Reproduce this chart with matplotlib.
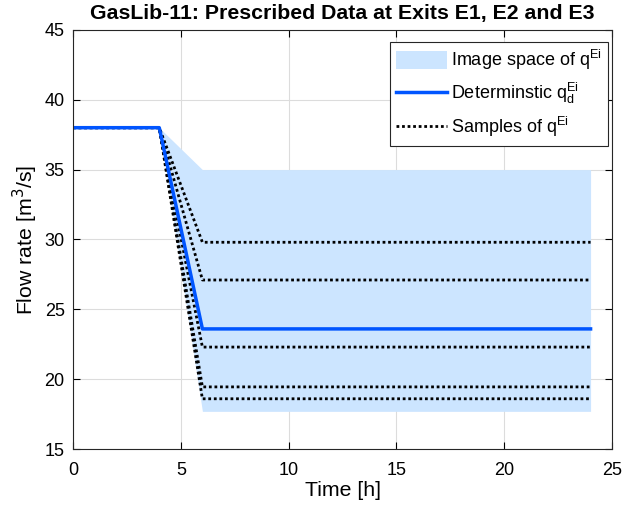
import matplotlib
matplotlib.use('Agg')
import matplotlib.pyplot as plt
from matplotlib.patches import Patch
from matplotlib.lines import Line2D

plt.rcParams['font.family'] = ['Liberation Sans', 'DejaVu Sans']

# time grid [h] and prescribed exit flow [m^3/s]
t = [0, 4, 6, 24]
upper = [38, 38, 35.0, 35.0]
lower = [38, 38, 17.7, 17.7]
deterministic = [38, 38, 23.6, 23.6]
samples = [
    [38, 38, 29.8, 29.8],
    [38, 38, 27.1, 27.1],
    [38, 38, 22.3, 22.3],
    [38, 38, 19.45, 19.45],
    [38, 38, 18.6, 18.6],
]

fig = plt.figure(figsize=(6.24, 5.15), dpi=100)
ax = fig.add_axes([0.117, 0.128, 0.864, 0.814])

ax.fill_between(t, lower, upper, color='#cce5ff', linewidth=0)
for s in samples:
    ax.plot(t, s, color='black', linestyle=(0, (1, 1)), linewidth=2)
ax.plot(t, deterministic, color='#0055ff', linewidth=2.5)

ax.set_xlim(0, 25)
ax.set_ylim(15, 45)
ax.set_xticks([0, 5, 10, 15, 20, 25])
ax.set_yticks([15, 20, 25, 30, 35, 40, 45])
ax.grid(True, color='#dcdcdc', linewidth=0.8)
ax.set_axisbelow(True)
ax.tick_params(direction='in', labelsize=13, top=True, right=True, length=5)
ax.tick_params(axis='x', pad=9)
ax.tick_params(axis='y', pad=6)
for sp in ax.spines.values():
    sp.set_color('#262626')
    sp.set_linewidth(0.8)

ax.set_xlabel('Time [h]', fontsize=15.3, labelpad=2)
ax.set_ylabel('Flow rate [m$^3$/s]', fontsize=15.3, labelpad=3)
ax.set_title('GasLib-11: Prescribed Data at Exits E1, E2 and E3',
             fontsize=15.3, fontweight='bold', pad=8)

handles = [
    Patch(facecolor='#cce5ff', edgecolor='none'),
    Line2D([], [], color='#0055ff', linewidth=2.5),
    Line2D([], [], color='black', linestyle=(0, (1, 1)), linewidth=2),
]
labels = [r'Image space of q$^{\mathregular{Ei}}$',
          r'Determinstic q$_{\mathregular{d}}^{\mathregular{Ei}}$',
          r'Samples of q$^{\mathregular{Ei}}$']
leg = ax.legend(handles, labels, loc='upper right', bbox_to_anchor=(0.993, 0.972),
                fontsize=13, fancybox=False, framealpha=1, edgecolor='#262626',
                handlelength=2.8, handleheight=1.15, borderpad=0.35,
                labelspacing=0.5, handletextpad=0.25, borderaxespad=0)
leg.get_frame().set_linewidth(0.8)

fig.savefig('out.png', dpi=100)
